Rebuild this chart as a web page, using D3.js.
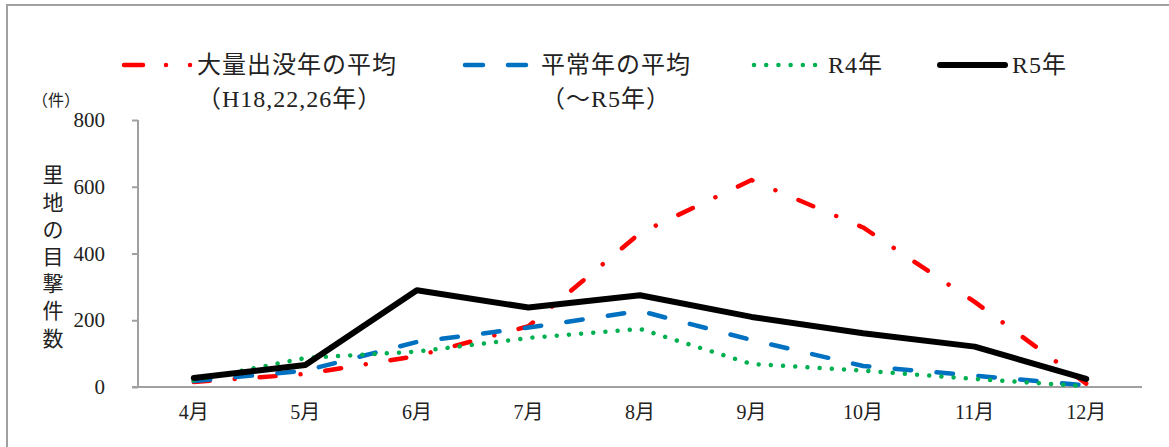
<!DOCTYPE html>
<html>
<head>
<meta charset="utf-8">
<script src="https://cdn.jsdelivr.net/npm/d3@7"></script>
<style>
  body { margin: 0; background: #fff; }
  svg text { font-family: "Liberation Serif", "Times New Roman", "DejaVu Serif", "Noto Sans CJK JP", serif; fill: #222; }
</style>
</head>
<body>
<svg id="chart" width="1169" height="447"></svg>
<script>
// months on the x axis
var months = ["4月", "5月", "6月", "7月", "8月", "9月", "10月", "11月", "12月"];
// sightings per month
var heavyYears = [15, 39, 93, 182, 461, 620, 478, 255, 10];   // 大量出没年の平均
var normalYears = [18, 49, 135, 178, 228, 141, 63, 34, 5];     // 平常年の平均
var r4 = [20, 87, 106, 147, 174, 69, 49, 24, 2];               // R4年
var r5 = [27, 66, 290, 238, 275, 210, 161, 121, 24];           // R5年
var yTicks = [0, 200, 400, 600, 800];

var svg = d3.select("#chart");

// frame (only top + left show in the picture)
svg.append("path")
  .attr("d", "M7,460 L7,5 L1180,5")
  .attr("fill", "none")
  .attr("stroke", "#a0a0a0")
  .attr("stroke-width", 2);

var x = d3.scaleBand().domain(months).range([138, 1142]);
var y = d3.scaleLinear().domain([0, 800]).range([387, 120]);

// y axis
var yAxis = svg.append("g")
  .attr("transform", "translate(138,0)")
  .call(d3.axisLeft(y).tickValues(yTicks).tickSize(6).tickPadding(27));
yAxis.attr("font-family", null);
yAxis.select(".domain").attr("stroke", "#a0a0a0").attr("stroke-width", 2)
  .attr("d", "M0," + y(800) + "V" + y(0));
yAxis.selectAll(".tick line").attr("stroke", "#a0a0a0").attr("stroke-width", 2);
yAxis.selectAll(".tick text").attr("font-size", 21).attr("fill", "#222");

// x axis
var xAxis = svg.append("g")
  .attr("transform", "translate(0,387)")
  .call(d3.axisBottom(x).tickSize(0).tickPadding(18));
xAxis.attr("font-family", null);
xAxis.select(".domain").attr("stroke", "#a0a0a0").attr("stroke-width", 2)
  .attr("d", "M132,0H1142");
xAxis.selectAll(".tick text").attr("font-size", 20).attr("fill", "#222");

// unit and y title
svg.append("text").attr("x", 32).attr("y", 106).attr("font-size", 16).text("（件）");
var title = "里地の目撃件数".split("");
svg.append("g").selectAll("text").data(title).enter().append("text")
  .attr("x", 53)
  .attr("y", function(d, i) { return 175 + i * 27.2; })
  .attr("dy", "0.35em")
  .attr("text-anchor", "middle")
  .attr("font-size", 21)
  .text(function(d) { return d; });

var series = [
  { name: "heavy", values: heavyYears, color: "#ff0000", width: 4.5, dash: "16,25,0.01,25" },
  { name: "normal", values: normalYears, color: "#0070c0", width: 4.5, dash: "16.5,25.5" },
  { name: "r4", values: r4, color: "#00b050", width: 4.5, dash: "0.01,12.2" },
  { name: "r5", values: r5, color: "#000000", width: 6, dash: null }
];

var line = d3.line()
  .x(function(d, i) { return x(months[i]) + x.bandwidth() / 2; })
  .y(function(d) { return y(d); });

svg.append("g").selectAll("path").data(series).enter().append("path")
  .attr("d", function(s) { return line(s.values); })
  .attr("fill", "none")
  .attr("stroke", function(s) { return s.color; })
  .attr("stroke-width", function(s) { return s.width; })
  .attr("stroke-dasharray", function(s) { return s.dash; })
  .attr("stroke-linecap", "round")
  .attr("stroke-linejoin", "round");

// legend
var legend = [
  { color: "#ff0000", width: 4.5, dash: "19,23,0.01,24,0.01,100", x1: 124, x2: 192, tx: 197,
    lines: ["大量出没年の平均", "（H18,22,26年）"] },
  { color: "#0070c0", width: 4.5, dash: "18,25", x1: 465, x2: 526, tx: 541,
    lines: ["平常年の平均", "（～R5年）"] },
  { color: "#00b050", width: 4.5, dash: "0.01,12.2", x1: 754, x2: 816, tx: 828,
    lines: ["R4年"] },
  { color: "#000000", width: 6, dash: null, x1: 940, x2: 1005, tx: 1012,
    lines: ["R5年"] }
];

var lg = svg.append("g").selectAll("g").data(legend).enter().append("g");
lg.append("line")
  .attr("x1", function(d) { return d.x1; })
  .attr("x2", function(d) { return d.x2; })
  .attr("y1", 65).attr("y2", 65)
  .attr("stroke", function(d) { return d.color; })
  .attr("stroke-width", function(d) { return d.width; })
  .attr("stroke-dasharray", function(d) { return d.dash; })
  .attr("stroke-linecap", "round");
lg.each(function(d) {
  d3.select(this).selectAll("text").data(d.lines).enter().append("text")
    .attr("x", d.tx)
    .attr("y", function(t, i) { return 65 + i * 34; })
    .attr("dy", "0.35em")
    .attr("font-size", 24)
    .attr("letter-spacing", 1)
    .text(function(t) { return t; });
});
</script>
</body>
</html>
